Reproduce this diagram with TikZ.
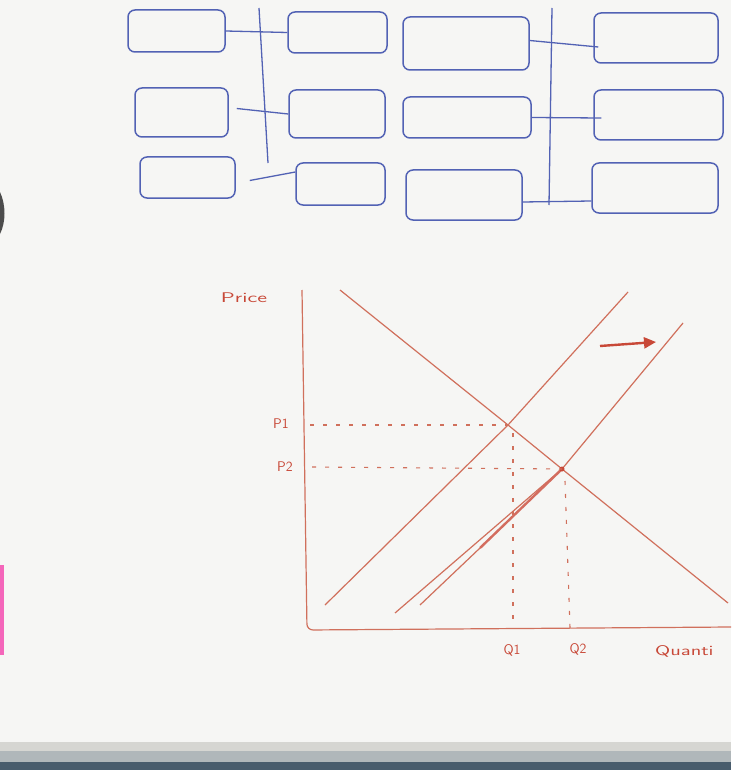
\documentclass[tikz,border=0pt]{standalone}
\usetikzlibrary{arrows.meta,calc}
\definecolor{board}{RGB}{246,246,244}
\definecolor{pen}{RGB}{82,98,180}
\definecolor{redpen}{RGB}{208,112,92}
\definecolor{redink}{RGB}{200,72,55}
\definecolor{trayA}{RGB}{214,214,210}
\definecolor{trayB}{RGB}{176,183,186}
\definecolor{trayC}{RGB}{72,92,108}
\tikzset{
  bx/.style={draw=pen, line width=1.5pt, rounded corners=7pt, inner sep=0pt},
  bl/.style={draw=pen, line width=1.3pt},
  rl/.style={draw=redpen, line width=1.2pt},
  thickred/.style={draw=redink, line width=2.4pt},
  dl/.style={draw=redpen, line width=1.1pt, dash pattern=on 4pt off 9pt},
  lab/.style={text=redink, font=\sffamily\fontsize{14}{16}\selectfont, inner sep=0pt},
}
\begin{document}
\begin{tikzpicture}[x=1pt,y=-1pt]
\useasboundingbox (0,0) rectangle (731,770);
\clip (0,0) rectangle (731,770);
% whiteboard and tray
\fill[board] (0,0) rectangle (731,742);
\fill[trayA] (0,742) rectangle (731,751);
\fill[trayB] (0,751) rectangle (731,762);
\fill[trayC] (0,762) rectangle (731,770);
\fill[black!70] (0,192) .. controls (6,205) and (6,222) .. (0,234) -- cycle;
\fill[magenta!60] (0,565) rectangle (4,655);

% ---- blue block diagram ----
\node[bx, minimum width=97pt,  minimum height=42pt] (A1) at (176.5,31) {};
\node[bx, minimum width=99pt,  minimum height=41pt] (B1) at (337.5,32.5) {};
\node[bx, minimum width=126pt, minimum height=53pt] (C1) at (466,43.5) {};
\node[bx, minimum width=124pt, minimum height=50pt] (D1) at (656,38) {};
\node[bx, minimum width=93pt,  minimum height=49pt] (A2) at (181.5,112.5) {};
\node[bx, minimum width=96pt,  minimum height=48pt] (B2) at (337,114) {};
\node[bx, minimum width=128pt, minimum height=41pt] (C2) at (467,117.5) {};
\node[bx, minimum width=129pt, minimum height=50pt] (D2) at (658.5,115) {};
\node[bx, minimum width=95pt,  minimum height=41pt] (A3) at (187.5,177.5) {};
\node[bx, minimum width=89pt,  minimum height=42pt] (B3) at (340.5,184) {};
\node[bx, minimum width=116pt, minimum height=50pt] (C3) at (464,195) {};
\node[bx, minimum width=126pt, minimum height=50pt] (D3) at (655,188) {};

\coordinate (v1t) at (259,8);
\coordinate (v1b) at (268,163);
\coordinate (v2t) at (552,8);
\coordinate (v2b) at (549,205);
\draw[bl] (v1t) -- (v1b);
\draw[bl] (v2t) -- (v2b);

\draw[bl] (A1.east) -- (B1.west);
\draw[bl] ($(A2.east)+(8,-4)$) -- (B2.west);
\draw[bl] ($(A3.east)+(14,3)$) -- ($(B3.west)+(0,-12)$);
\draw[bl] ($(C1.east)+(0,-3)$) -- ($(D1.west)+(5,9)$);
\draw[bl] (C2.east) -- ($(D2.west)+(8,3)$);
\draw[bl] ($(C3.east)+(0,7)$) -- ($(D3.west)+(0,13)$);

% ---- red supply/demand graph ----
\coordinate (ytop) at (302,290);
\coordinate (orig) at (307,630);
\coordinate (xend) at (731,627);
\draw[rl, rounded corners=6pt] (ytop) -- (orig) -- (xend);

\coordinate (E1) at (508,425);
\coordinate (E2) at (562,469);
\coordinate (dtop) at (340,290);
\coordinate (dbot) at (728,603);
\coordinate (s1a) at (325,605);
\coordinate (s1b) at (628,292);
\coordinate (s2a) at (395,613);
\coordinate (s2b) at (683,323);
\coordinate (s3a) at (420,605);

\draw[rl] (dtop) -- (E1) -- (E2) -- (dbot);
\draw[rl] (s1a) -- (E1) -- (s1b);
\draw[rl] (s2a) -- (E2) -- (s2b);
\draw[rl] (s3a) -- (480,548);
\draw[thickred, draw=redink!80] (480,548) -- (E2);
\fill[redink] (E2) circle (2.5pt);

\coordinate (p1) at (310,425);
\coordinate (p2) at (312,467);
\coordinate (q1) at (513,628);
\coordinate (q2) at (570,628);
\draw[dl] (p1) -- (E1);
\draw[dl] (p2) -- (E2);
\draw[dl] (E1) ++(5,8) -- (q1);
\draw[dl] (E2) ++(3,12) -- (q2);

\node[lab] (lprice) at (244,298) {\scalebox{1.6}[1]{Price}};
\node[lab] (lp1) at (281,424) {P1};
\node[lab] (lp2) at (285,467) {P2};
\node[lab] (lq1) at (512,650) {Q1};
\node[lab] (lq2) at (578,649) {Q2};
\node[lab, anchor=west] (lq) at (655,651) {\scalebox{1.5}[1]{Quanti}};

\coordinate (aw) at (600,346);
\coordinate (ae) at (656,342);
\draw[thickred, -{Triangle[length=12pt,width=11pt]}] (aw) -- (ae);
\end{tikzpicture}
\end{document}
